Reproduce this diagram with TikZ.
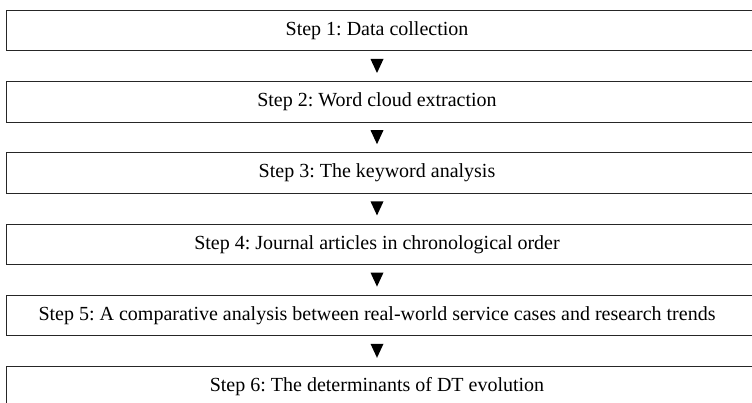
\documentclass[tikz,border=0pt]{standalone}
\usepackage{fontspec}
\setmainfont{Liberation Serif}
\frenchspacing
\usetikzlibrary{calc}
\begin{document}
\begin{tikzpicture}[x=1pt,y=-1pt,
  stepbox/.style={draw=black!85, line width=1pt, minimum width=754pt, minimum height=40.5pt, inner sep=0pt, anchor=north west},
  steplabel/.style={inner sep=0pt, font=\fontsize{20}{24}\selectfont},
  marker/.style={fill=black}
]
\useasboundingbox (0,0) rectangle (752,403);
\foreach \i/\t in {1/{Step 1: Data collection},
                   2/{Step 2: Word cloud extraction},
                   3/{Step 3: The keyword analysis},
                   4/{Step 4: Journal articles in chronological order},
                   5/{Step 5: A comparative analysis between real-world service cases and research trends},
                   6/{Step 6: The determinants of DT evolution}}{
  \node[stepbox] (b\i) at (6,{10+71.2*(\i-1)}) {};
  \node[steplabel] (t\i) at ($(b\i.west)+(371,0)$) {\frenchspacing\t};
}
\foreach \i in {1,...,5}{
  \fill[marker] ($(b\i.south west)+(364.5,7.5)$) -- ++(13,0) -- ++(-6.5,14) -- cycle;
}
\end{tikzpicture}
\end{document}
